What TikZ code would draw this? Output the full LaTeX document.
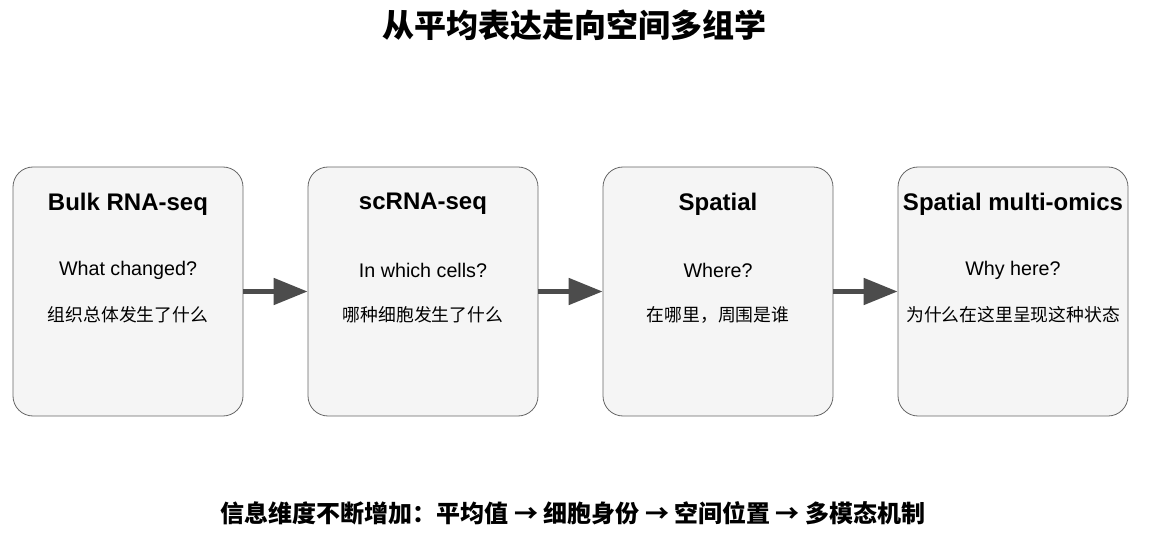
\documentclass[tikz,border=0pt]{standalone}
\usepackage{fontspec}
\setmainfont{Liberation Sans}
\newfontfamily\cjk{Noto Sans CJK SC}
\usetikzlibrary{arrows.meta}
\begin{document}
\begin{tikzpicture}[x=1pt,y=-1pt,
  box/.style={draw=black!60,fill=black!4,rounded corners=20pt,minimum width=230pt,minimum height=249pt,line width=0.8pt},
  ttl/.style={font=\bfseries\fontsize{24}{28}\selectfont},
  sub/.style={font=\fontsize{19.7}{23}\selectfont},
  cn/.style={font=\cjk\fontsize{17.8}{21}\selectfont},
  arr/.style={draw=black!70,line width=5pt,-{Triangle[length=34pt,width=26pt]}}]
\useasboundingbox (0,0) rectangle (1150,534);
\node[font=\cjk\bfseries\fontsize{32}{36}\selectfont] (title) at (574,25) {从平均表达走向空间多组学};
\foreach \i/\x/\t/\s/\c in {1/128/Bulk RNA-seq/What changed?/组织总体发生了什么,
  2/423/scRNA-seq/In which cells?/哪种细胞发生了什么,
  3/718/Spatial/Where?/在哪里，周围是谁,
  4/1013/Spatial multi-omics/Why here?/为什么在这里呈现这种状态}{
  \node[box] (b\i) at (\x,291.5) {};
  \node[ttl] (t\i) at (\x,204) {\t};
  \node[sub] (s\i) at (\x,270) {\s};
  \node[cn] (c\i) at (\x,315) {\c};
}
\draw[arr] (b1.east) -- (b2.west);
\draw[arr] (b2.east) -- (b3.west);
\draw[arr] (b3.east) -- (b4.west);
\node[font=\cjk\bfseries\fontsize{24}{28}\selectfont] (foot) at (573,513) {信息维度不断增加：平均值 → 细胞身份 → 空间位置 → 多模态机制};
\end{tikzpicture}
\end{document}
